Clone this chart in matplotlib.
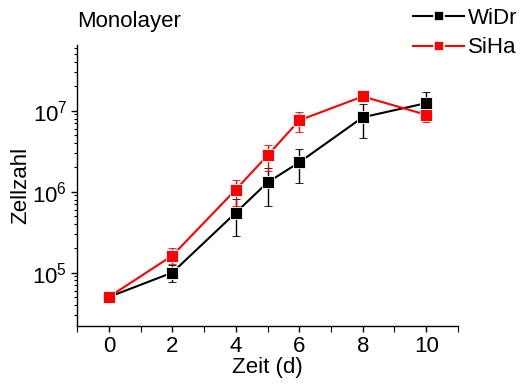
import numpy as np
import matplotlib
matplotlib.use("Agg")
import matplotlib.pyplot as plt
from matplotlib.lines import Line2D
from matplotlib.ticker import LogLocator, NullFormatter, MultipleLocator

plt.rcParams['font.family'] = ['Liberation Sans', 'DejaVu Sans']
plt.rcParams['mathtext.fontset'] = 'custom'
plt.rcParams['mathtext.rm'] = 'Liberation Sans'

# Zeitpunkte (Tage)
days = [0, 2, 4, 5, 6, 8, 10]

# WiDr: Mittelwert, untere / obere Fehlergrenze
widr = [5.0e4, 1.0e5, 5.5e5, 1.3e6, 2.3e6, 8.3e6, 1.24e7]
widr_lo = [5.0e4, 7.7e4, 2.8e5, 6.6e5, 1.28e6, 4.6e6, 8.5e6]
widr_hi = [5.0e4, 1.25e5, 8.2e5, 1.96e6, 3.4e6, 1.22e7, 1.7e7]

# SiHa
siha = [5.0e4, 1.62e5, 1.06e6, 2.8e6, 7.6e6, 1.5e7, 8.9e6]
siha_lo = [5.0e4, 1.26e5, 6.7e5, 1.8e6, 5.4e6, 1.3e7, 7.3e6]
siha_hi = [5.0e4, 2.02e5, 1.41e6, 3.77e6, 9.6e6, 1.6e7, 9.8e6]

fig = plt.figure(figsize=(5.21, 3.87), dpi=100)
ax = fig.add_axes([0.148, 0.158, 0.731, 0.726])

series = [
    ('WiDr', widr, widr_lo, widr_hi, 'black'),
    ('SiHa', siha, siha_lo, siha_hi, '#ff0000'),
]
handles = []
for label, y, lo, hi, c in series:
    y = np.array(y)
    yerr = [y - np.array(lo), np.array(hi) - y]
    ax.errorbar(days, y, yerr=yerr, color=c, ecolor=c, marker='s',
                markersize=8, markeredgecolor='white', markeredgewidth=0.6,
                linewidth=1.5, elinewidth=1.0, capsize=3, capthick=1.0)
    handles.append(Line2D([], [], color=c, marker='s', markersize=7.5,
                          markeredgecolor='white', markeredgewidth=1.2,
                          linewidth=1.5, label=label))

ax.set_yscale('log')
ax.set_xlim(-1, 11)
ax.set_ylim(2.2e4, 6.5e7)
ax.xaxis.set_major_locator(MultipleLocator(2))
ax.xaxis.set_minor_locator(MultipleLocator(1))
ax.yaxis.set_major_locator(LogLocator(base=10, numticks=10))
ax.yaxis.set_minor_locator(LogLocator(base=10, subs=np.arange(2, 10), numticks=20))
ax.yaxis.set_minor_formatter(NullFormatter())

for s in ['top', 'right']:
    ax.spines[s].set_visible(False)
ax.spines['left'].set_linewidth(1.0)
ax.spines['bottom'].set_linewidth(1.0)
ax.tick_params(which='major', direction='out', length=4, width=1.0,
               labelsize=16, pad=3)
ax.tick_params(which='minor', direction='out', length=2.5, width=0.8)
ax.tick_params(axis='x', which='minor', length=4)

ax.set_xlabel('Zeit (d)', fontsize=16, labelpad=0)
ax.set_ylabel('Zellzahl', fontsize=16, labelpad=1)
fig.text(0.148, 0.945, 'Monolayer', fontsize=16, ha='left', va='center')

fig.legend(handles=handles, loc='upper right', bbox_to_anchor=(1.018, 1.015),
           frameon=False, fontsize=16, handlelength=2.3, handletextpad=0.15,
           labelspacing=0.4, borderaxespad=0.2)

fig.savefig('out.png', dpi=100)
